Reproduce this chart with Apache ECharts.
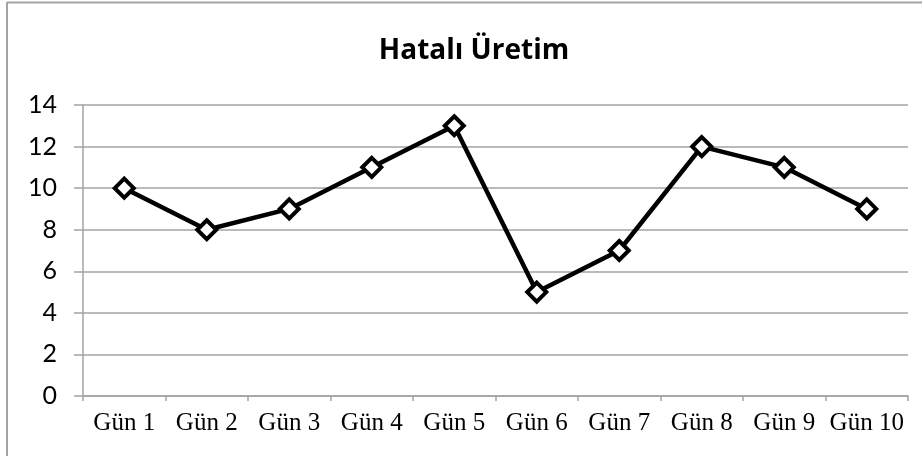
<!DOCTYPE html>
<html>
<head>
<meta charset="utf-8">
<script src="https://cdn.jsdelivr.net/npm/echarts@6/dist/echarts.min.js"></script>
<style>
  html, body { margin: 0; padding: 0; background: #fff; }
  #chart { width: 922px; height: 456px; }
</style>
</head>
<body>
<div id="chart"></div>
<script>
// günlük hatalı üretim adetleri
const categories = ['Gün 1', 'Gün 2', 'Gün 3', 'Gün 4', 'Gün 5', 'Gün 6', 'Gün 7', 'Gün 8', 'Gün 9', 'Gün 10'];
const hataliUretim = [10, 8, 9, 11, 13, 5, 7, 12, 11, 9];
const yTicks = [0, 2, 4, 6, 8, 10, 12, 14];

const gray = '#a3a3a3';
const chart = echarts.init(document.getElementById('chart'));

const option = {
  animation: false,
  backgroundColor: '#fff',
  grid: { left: 83, right: 14, top: 105, bottom: 60 },
  graphic: [
    // dış çerçeve (sadece sol ve üst kenar görünüyor)
    { type: 'line', shape: { x1: 7, y1: 2.5, x2: 922, y2: 2.5 }, style: { stroke: gray, lineWidth: 2 } },
    { type: 'line', shape: { x1: 7, y1: 2, x2: 7, y2: 456 }, style: { stroke: gray, lineWidth: 2 } },
    {
      type: 'text', x: 474, y: 51,
      style: {
        text: 'Hatalı Üretim', fill: '#000',
        font: 'bold 28px "Open Sans"', textAlign: 'center', textVerticalAlign: 'middle'
      }
    }
  ],
  xAxis: {
    type: 'category',
    data: categories,
    boundaryGap: true,
    axisLine: { lineStyle: { color: gray, width: 1.5 } },
    axisTick: { show: true, length: 5, lineStyle: { color: gray, width: 1.5 } },
    axisLabel: { color: '#000', fontFamily: 'Liberation Serif', fontSize: 25, margin: 15, interval: 0 },
    splitLine: { show: false }
  },
  yAxis: {
    type: 'value',
    min: yTicks[0],
    max: yTicks[yTicks.length - 1],
    interval: 2,
    axisLine: { show: true, lineStyle: { color: gray, width: 1.5 } },
    axisTick: { show: true, length: 9, lineStyle: { color: gray, width: 1.5 } },
    axisLabel: { color: '#000', fontFamily: 'Lato', fontSize: 25, margin: 26 },
    splitLine: { lineStyle: { color: gray, width: 1.5 } }
  },
  series: [{
    name: 'Hatalı Üretim',
    type: 'line',
    data: hataliUretim,
    lineStyle: { color: '#000', width: 4.5 },
    symbol: 'diamond',
    symbolSize: 19,
    itemStyle: { color: '#fff', borderColor: '#000', borderWidth: 4 },
    z: 3
  }]
};

chart.setOption(option);
</script>
</body>
</html>
